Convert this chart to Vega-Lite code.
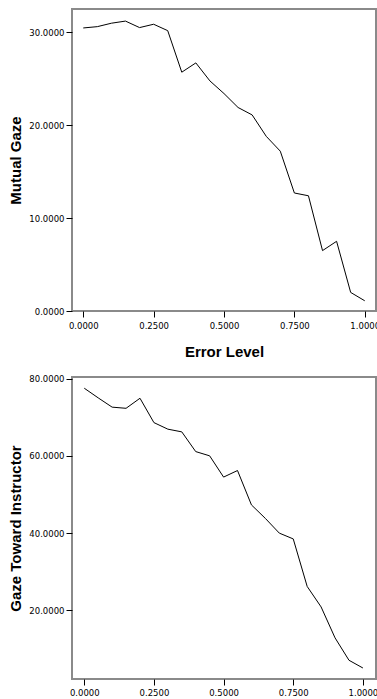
{
  "$schema": "https://vega.github.io/schema/vega-lite/v6.json",
  "padding": {"left": 7, "top": 8, "right": 0, "bottom": 0},
  "spacing": 12,
  "background": "white",
  "config": {
    "font": "DejaVu Sans",
    "view": {"stroke": "#8a8a8a", "strokeWidth": 2},
    "axis": {
      "grid": false,
      "domain": false,
      "tickColor": "black",
      "tickSize": 6,
      "labelFont": "DejaVu Sans",
      "labelFontSize": 8.5,
      "labelColor": "black",
      "titleFont": "Liberation Sans",
      "titleFontSize": 15,
      "titleFontWeight": "bold",
      "titleColor": "black"
    }
  },
  "datasets": {
    "gaze": [
      {"error": 0.00, "mutual": 30.46, "instructor": 77.5},
      {"error": 0.05, "mutual": 30.6, "instructor": 75.0},
      {"error": 0.10, "mutual": 30.97, "instructor": 72.6},
      {"error": 0.15, "mutual": 31.2, "instructor": 72.3},
      {"error": 0.20, "mutual": 30.5, "instructor": 74.9},
      {"error": 0.25, "mutual": 30.86, "instructor": 68.6},
      {"error": 0.30, "mutual": 30.17, "instructor": 66.9},
      {"error": 0.35, "mutual": 25.7, "instructor": 66.2},
      {"error": 0.40, "mutual": 26.7, "instructor": 61.1},
      {"error": 0.45, "mutual": 24.76, "instructor": 60.0},
      {"error": 0.50, "mutual": 23.4, "instructor": 54.5},
      {"error": 0.55, "mutual": 21.9, "instructor": 56.2},
      {"error": 0.60, "mutual": 21.1, "instructor": 47.3},
      {"error": 0.65, "mutual": 18.8, "instructor": 43.8},
      {"error": 0.70, "mutual": 17.2, "instructor": 40.0},
      {"error": 0.75, "mutual": 12.7, "instructor": 38.5},
      {"error": 0.80, "mutual": 12.4, "instructor": 26.2},
      {"error": 0.85, "mutual": 6.5, "instructor": 20.9},
      {"error": 0.90, "mutual": 7.5, "instructor": 12.9},
      {"error": 0.95, "mutual": 2.0, "instructor": 7.1},
      {"error": 1.00, "mutual": 1.1, "instructor": 5.1}
    ]
  },
  "vconcat": [
    {
      "width": 304,
      "height": 302,
      "data": {"name": "gaze"},
      "mark": {"type": "line", "color": "black", "strokeWidth": 1},
      "encoding": {
        "x": {
          "field": "error",
          "type": "quantitative",
          "scale": {"domain": [-0.04, 1.04], "nice": false, "zero": false},
          "axis": {"title": "Error Level", "values": [0, 0.25, 0.5, 0.75, 1], "format": ".4f", "labelPadding": 4, "titlePadding": 15}
        },
        "y": {
          "field": "mutual",
          "type": "quantitative",
          "scale": {"domain": [0, 32.5], "nice": false},
          "axis": {"title": "Mutual Gaze", "values": [0, 10, 20, 30], "format": ".4f", "labelPadding": 2, "titlePadding": 5}
        }
      }
    },
    {
      "width": 304,
      "height": 302,
      "data": {"name": "gaze"},
      "mark": {"type": "line", "color": "black", "strokeWidth": 1},
      "encoding": {
        "x": {
          "field": "error",
          "type": "quantitative",
          "scale": {"domain": [-0.044, 1.047], "nice": false, "zero": false},
          "axis": {"title": null, "values": [0, 0.25, 0.5, 0.75, 1], "format": ".4f", "labelPadding": 3}
        },
        "y": {
          "field": "instructor",
          "type": "quantitative",
          "scale": {"domain": [2.25, 80.4], "nice": false, "zero": false},
          "axis": {"title": "Gaze Toward Instructor", "values": [20, 40, 60, 80], "format": ".4f", "labelPadding": 2, "titlePadding": 5}
        }
      }
    }
  ]
}
